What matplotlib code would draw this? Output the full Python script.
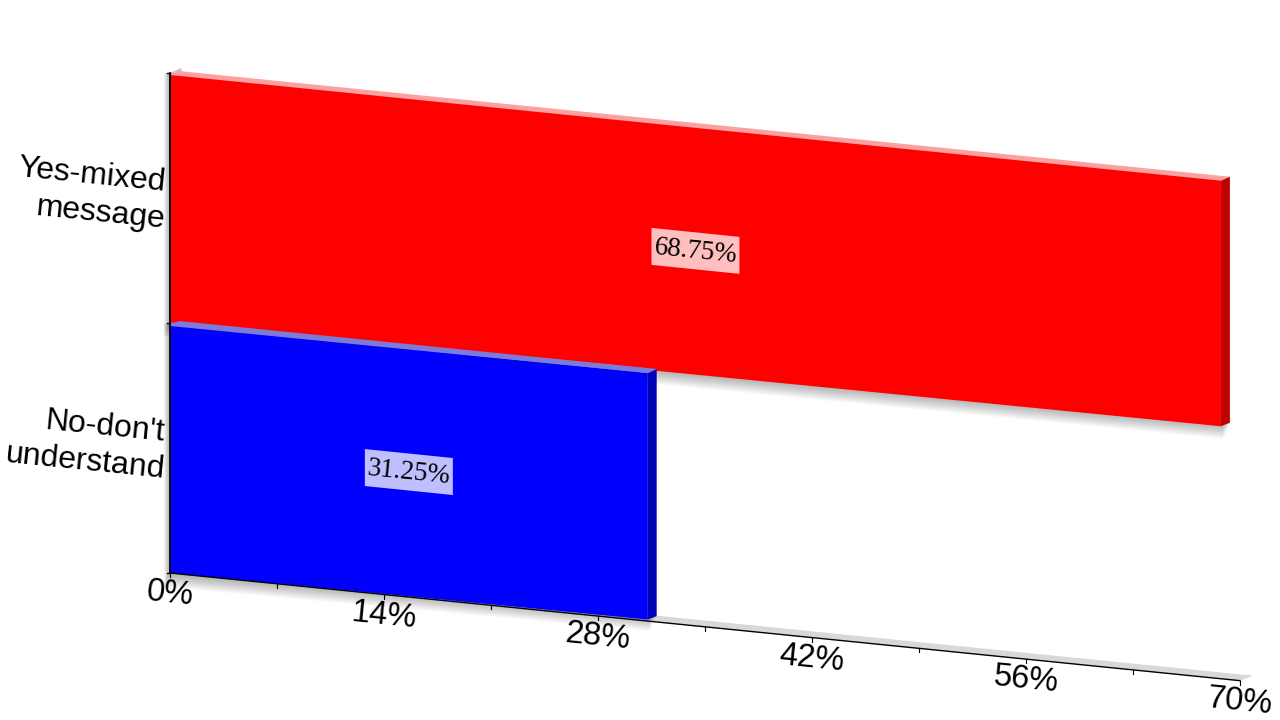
import matplotlib
matplotlib.use("Agg")
import matplotlib.pyplot as plt
from matplotlib.patches import Polygon

# data
categories = ["No-don't\nunderstand", "Yes-mixed\nmessage"]
values = [31.25, 68.75]
labels = ["31.25%", "68.75%"]
front_colors = ["#0000ff", "#ff0000"]
top_colors = ["#7c7cd8", "#ffa0a0"]
side_colors = ["#0000b4", "#bf0000"]
label_colors = ["#bfbfff", "#ffbfbf"]
bottom_lift = [-1.5, -2.5]
x_major = [0, 14, 28, 42, 56, 70]
x_ticks = [0, 7, 14, 21, 28, 35, 42, 49, 56, 63, 70]
x_max = 70

FONT = "Liberation Sans"
ANGLE = -5.75


def project(v, c, dx=0, dy=0):
    """ value / category position -> pixel position on the tilted plane """
    return (170 + 15.286 * v + dx, 573 - 250 * c + 1.538 * v + dy)


def quad(ax, pts, color, z, alpha=1.0):
    ax.add_patch(Polygon(pts, closed=True, facecolor=color, edgecolor="none", alpha=alpha, zorder=z))


fig = plt.figure(figsize=(12.8, 7.2), dpi=100)
ax = fig.add_axes([0, 0, 1, 1])
ax.set_xlim(0, 1280)
ax.set_ylim(720, 0)
ax.axis("off")

# floor and corner of the wall
quad(ax, [project(0, 0), project(x_max, 0), project(x_max, 0, 13, -5), project(0, 0, 13, -5)], "#d8d8d8", 1)
quad(ax, [project(0, 2), project(0, 2, 11, -5), project(0.8, 2, 0, -3), project(0, 2, 0, 2)], "#c4c4c4", 1)

# soft shadows
for k in range(1, 15):
    for i, val in enumerate(values):
        quad(ax, [project(0, i + 1, -k * 0.45, 0), project(val, i + 1, 0, 0),
                  project(val, i, 9 - k * 0.5, k - 4), project(0, i, -k * 0.45, k)], "#000000", 2, alpha=0.025)

# bars
for i, val in enumerate(values):
    z = 5 if i == 0 else 4
    lift = bottom_lift[i]
    quad(ax, [project(0, i + 1, 0, 2), project(val, i + 1, 0, 2), project(val, i + 1, 9, -2), project(0, i + 1, 9, -2)],
         top_colors[i], z)
    quad(ax, [project(val, i, 0, lift), project(val, i + 1, 0, 2), project(val, i + 1, 9, -2), project(val, i, 9, lift - 3.5)],
         side_colors[i], z)
    quad(ax, [project(0, i), project(val, i, 0, lift), project(val, i + 1, 0, 2), project(0, i + 1, 0, 2)],
         front_colors[i], z + 0.5)

# the blue top strip sits over the red face
quad(ax, [project(0, 1, 0, 3), project(values[0], 1, 0, 2), project(values[0], 1, 9, -2), project(0, 1, 0, -1)],
     top_colors[0], 6)

# axis lines and ticks
ax.plot(*zip(project(0, 0), project(x_max, 0)), color="black", lw=1.0, zorder=7)
ax.plot(*zip(project(0, 0), project(0, 2)), color="black", lw=1.3, zorder=7)
for c in range(len(categories) + 1):
    ax.plot(*zip(project(0, c, -3.5), project(0, c)), color="black", lw=1.0, zorder=7)
for v in x_ticks:
    ax.plot(*zip(project(v, 0), project(v, 0, 0, 4)), color="black", lw=0.8, zorder=7)

# tick labels
for v in x_major:
    x, y = project(v, 0, 0, 21)
    ax.text(x, y, "%d%%" % v, fontsize=23.5, family=FONT, rotation=ANGLE, rotation_mode="anchor",
            ha="center", va="center", color="black", zorder=8)

# category labels, one text per line so the right ends stay lined up
for i, name in enumerate(categories):
    lines = name.split("\n")
    for n, line in enumerate(lines):
        x, y = project(0, i + 0.5, -5, (n - 0.5) * 36.5 + 3.5)
        ax.text(x, y, line, fontsize=23, family=FONT, rotation=ANGLE, rotation_mode="anchor",
                ha="right", va="center", color="black", zorder=8)

# value labels with a sheared backing box
for i, val in enumerate(values):
    x, y = project(val / 2, i + 0.5)
    quad(ax, [project(val / 2, i + 0.5, -44, -4.5 - 18.5), project(val / 2, i + 0.5, 44, 4.5 - 18.5),
              project(val / 2, i + 0.5, 44, 4.5 + 18.5), project(val / 2, i + 0.5, -44, -4.5 + 18.5)],
         label_colors[i], 8.5)
    ax.text(x, y + 1, labels[i], fontsize=19.5, family="Liberation Serif", rotation=ANGLE, rotation_mode="anchor",
            ha="center", va="center", color="black", zorder=9)

fig.savefig("out.png", dpi=100)
